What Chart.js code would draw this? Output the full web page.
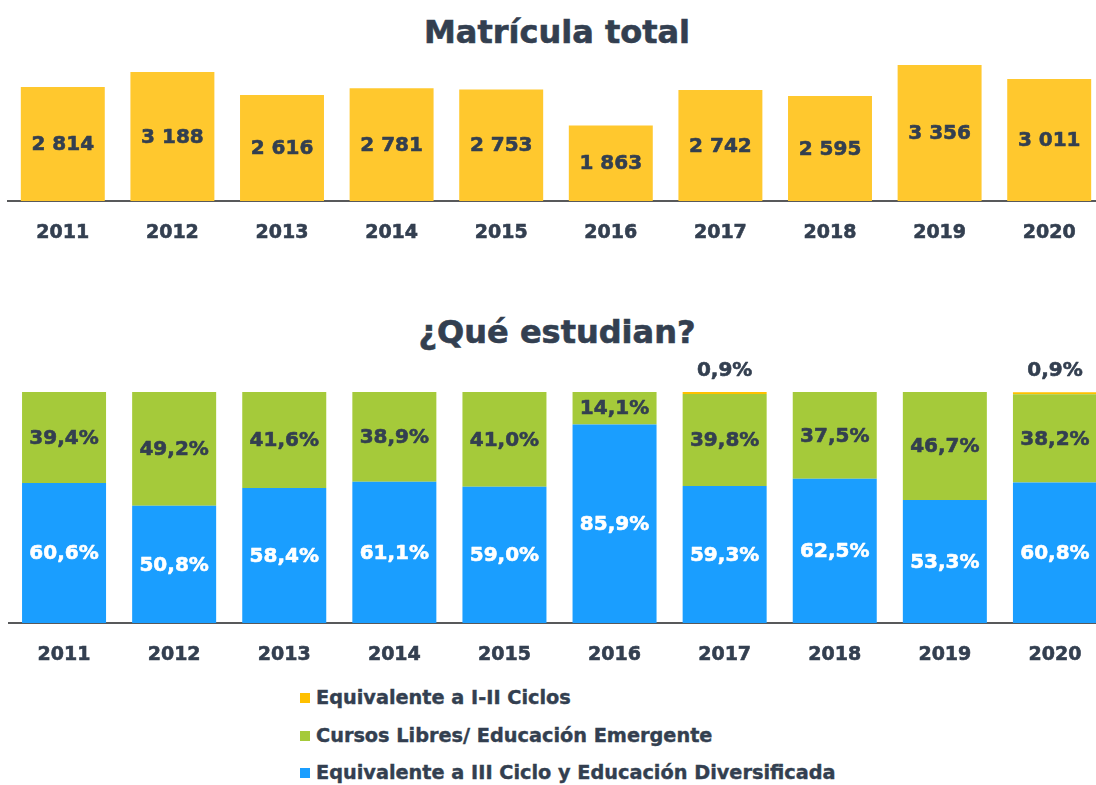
<!DOCTYPE html>
<html><head><meta charset="utf-8">
<script src="https://cdn.jsdelivr.net/npm/chart.js@4.4.0/dist/chart.umd.min.js"></script>
<style>
html,body{margin:0;padding:0;background:#fff;width:1096px;height:785px;overflow:hidden;}
body{position:relative;font-family:"DejaVu Sans",sans-serif;color:#333F50;}
.title{position:absolute;left:557px;transform:translateX(-50%);font-weight:bold;font-size:32px;line-height:32px;white-space:nowrap;-webkit-text-stroke:0.6px #333F50;}
canvas{position:absolute;left:0;}
.lg{position:absolute;left:300px;height:20px;display:flex;align-items:center;font-weight:bold;font-size:19.3px;line-height:20px;white-space:nowrap;-webkit-text-stroke:0.4px #333F50;}
.lg span.sq{display:inline-block;width:10px;height:10px;margin-right:6px;}
</style>
</head><body>
<div class="title" style="top:16px">Matrícula total</div>
<div class="title" style="top:316px">¿Qué estudian?</div>
<canvas id="c1" width="1104" height="261" style="top:0"></canvas>
<canvas id="c2" width="1110" height="333" style="top:350px"></canvas>
<div id="legend"></div>
<script>
const years = ['2011','2012','2013','2014','2015','2016','2017','2018','2019','2020'];
const totalEnrollment = [2814,3188,2616,2781,2753,1863,2742,2595,3356,3011];
const pctCiclo3Diversificada = [60.6,50.8,58.4,61.1,59.0,85.9,59.3,62.5,53.3,60.8];
const pctCursosLibres = [39.4,49.2,41.6,38.9,41.0,14.1,39.8,37.5,46.7,38.2];
const pctCiclosI_II = [0,0,0,0,0,0,0.9,0,0,0.9];

const DARK = '#333F50';
const FONT = 'DejaVu Sans';
const fmtInt = v => String(v).replace(/\B(?=(\d{3})+(?!\d))/g, ' ');
const fmtPct = v => v.toFixed(1).replace('.', ',') + '%';

function labelPlugin(cfg) {
  return {
    id: 'valueLabels',
    afterDatasetsDraw(chart) {
      const ctx = chart.ctx;
      ctx.save();
      ctx.font = 'bold 20px "' + FONT + '"';
      ctx.textAlign = 'center';
      ctx.textBaseline = 'middle';
      ctx.lineWidth = 0.6;
      ctx.lineJoin = 'round';
      chart.data.datasets.forEach((ds, di) => {
        const meta = chart.getDatasetMeta(di);
        const c = cfg[di];
        meta.data.forEach((el, i) => {
          const v = ds.data[i];
          if (!v) return;
          const p = el.getProps(['x', 'y', 'base'], true);
          ctx.fillStyle = c.color;
          ctx.strokeStyle = c.color;
          const y = c.above ? p.y - 21 : (p.y + p.base) / 2 + 1;
          const t = c.format(v);
          ctx.fillText(t, p.x, y);
          ctx.strokeText(t, p.x, y);
        });
      });
      ctx.restore();
    }
  };
}

function xAxis() {
  return {
    grid: { display: false, drawTicks: false },
    border: { display: true, color: '#58595B', width: 2 },
    ticks: { color: DARK, font: { family: FONT, size: 19, weight: 'bold' }, padding: 21, textStrokeColor: DARK, textStrokeWidth: 0.6 },
    afterFit(s) { s.height = 60; }
  };
}

new Chart(document.getElementById('c1'), {
  type: 'bar',
  data: {
    labels: years,
    datasets: [{ label: 'Matrícula total', data: totalEnrollment, backgroundColor: '#FFC82E', barPercentage: 0.766, categoryPercentage: 1 }]
  },
  options: {
    responsive: false, devicePixelRatio: 1, animation: false,
    layout: { padding: { left: 8, top: 39, right: 0, bottom: 0 } },
    plugins: { legend: { display: false }, tooltip: { enabled: false } },
    scales: { x: xAxis(), y: { display: false, min: 0, max: 4000 } }
  },
  plugins: [labelPlugin([{ color: DARK, format: fmtInt }])]
});

const series = [
  { label: 'Equivalente a III Ciclo y Educación Diversificada', data: pctCiclo3Diversificada, color: '#1A9EFF', text: '#FFFFFF', above: false },
  { label: 'Cursos Libres/ Educación Emergente', data: pctCursosLibres, color: '#A5CA3A', text: DARK, above: false },
  { label: 'Equivalente a I-II Ciclos', data: pctCiclosI_II, color: '#FFC000', text: DARK, above: true }
];

const chart2 = new Chart(document.getElementById('c2'), {
  type: 'bar',
  data: {
    labels: years,
    datasets: series.map(s => ({ label: s.label, data: s.data, backgroundColor: s.color, barPercentage: 0.763, categoryPercentage: 1 }))
  },
  options: {
    responsive: false, devicePixelRatio: 1, animation: false,
    layout: { padding: { left: 9, top: 42, right: 0, bottom: 0 } },
    plugins: { legend: { display: false }, tooltip: { enabled: false } },
    scales: { x: Object.assign(xAxis(), { stacked: true }), y: { display: false, stacked: true, min: 0, max: 100 } }
  },
  plugins: [labelPlugin(series.map(s => ({ color: s.text, above: s.above, format: fmtPct })))]
});

const legend = document.getElementById('legend');
chart2.data.datasets.slice().reverse().forEach((ds, i) => {
  const row = document.createElement('div');
  row.className = 'lg';
  row.style.top = (688 + 37.7 * i) + 'px';
  const sq = document.createElement('span');
  sq.className = 'sq';
  sq.style.background = ds.backgroundColor;
  row.appendChild(sq);
  row.appendChild(document.createTextNode(ds.label));
  legend.appendChild(row);
});
</script>
</body></html>
